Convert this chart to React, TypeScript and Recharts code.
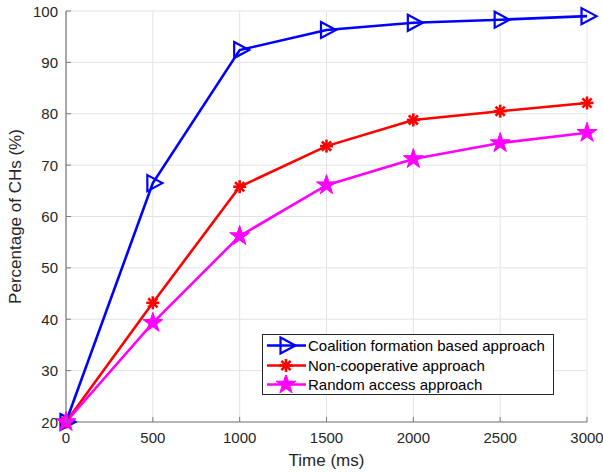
import { LineChart, Line, XAxis, YAxis, CartesianGrid } from 'recharts';

const times = [0, 500, 1000, 1500, 2000, 2500, 3000];
const coalition = [20, 66.5, 92.4, 96.3, 97.7, 98.3, 99.0];
const nonCoop = [20, 43.2, 65.8, 73.7, 78.8, 80.5, 82.1];
const randomAccess = [20, 39.3, 56.2, 66.1, 71.2, 74.3, 76.3];

const xTicks = [0, 500, 1000, 1500, 2000, 2500, 3000];
const yTicks = [20, 30, 40, 50, 60, 70, 80, 90, 100];

const data = times.map((t, i) => ({
  t,
  coalition: coalition[i],
  nonCoop: nonCoop[i],
  randomAccess: randomAccess[i],
}));

const FONT = '"Liberation Sans", Arial, Helvetica, sans-serif';
const AXIS = '#7a7a7a';
const TEXT = '#262626';

const triangle = (cx: number, cy: number, color: string) => (
  <polygon
    points={`${cx - 5.5},${cy - 8} ${cx + 9.5},${cy} ${cx - 5.5},${cy + 8}`}
    fill="none"
    stroke={color}
    strokeWidth={2.2}
    strokeLinejoin="miter"
  />
);

const asterisk = (cx: number, cy: number, color: string) => {
  const r = 6.5;
  const d = r * 0.7071;
  return (
    <g stroke={color} strokeWidth={2.6}>
      <line x1={cx - r} y1={cy} x2={cx + r} y2={cy} />
      <line x1={cx} y1={cy - r} x2={cx} y2={cy + r} />
      <line x1={cx - d} y1={cy - d} x2={cx + d} y2={cy + d} />
      <line x1={cx - d} y1={cy + d} x2={cx + d} y2={cy - d} />
    </g>
  );
};

const pentagram = (cx: number, cy: number, color: string) => {
  const R = 10.5;
  const r = R * 0.382;
  const pts: string[] = [];
  for (let i = 0; i < 10; i++) {
    const a = -Math.PI / 2 + (i * Math.PI) / 5;
    const rad = i % 2 === 0 ? R : r;
    pts.push(`${cx + rad * Math.cos(a)},${cy + rad * Math.sin(a)}`);
  }
  return <polygon points={pts.join(' ')} fill={color} stroke={color} strokeWidth={1} />;
};

const series = [
  { key: 'coalition', name: 'Coalition formation based approach', color: '#0000ff', marker: triangle },
  { key: 'nonCoop', name: 'Non-cooperative approach', color: '#ff0000', marker: asterisk },
  { key: 'randomAccess', name: 'Random access approach', color: '#ff00ff', marker: pentagram },
];

// MATLAB style: ticks point inward, labels only on bottom/left
const XTick = (props: any) => {
  const { x, y, payload, top } = props;
  if (top) {
    return <line x1={x} y1={y} x2={x} y2={y + 5} stroke={AXIS} />;
  }
  return (
    <g>
      <line x1={x} y1={y} x2={x} y2={y - 5} stroke={AXIS} />
      <text x={x} y={y + 21} textAnchor="middle" fontSize={15} fill={TEXT} fontFamily={FONT}>
        {payload.value}
      </text>
    </g>
  );
};

const YTick = (props: any) => {
  const { x, y, payload, right } = props;
  if (right) {
    return <line x1={x} y1={y} x2={x - 5} y2={y} stroke={AXIS} />;
  }
  return (
    <g>
      <line x1={x} y1={y} x2={x + 5} y2={y} stroke={AXIS} />
      <text x={x - 8} y={y + 5.5} textAnchor="end" fontSize={15} fill={TEXT} fontFamily={FONT}>
        {payload.value}
      </text>
    </g>
  );
};

const ChartLegend = () => (
  <div
    style={{
      position: 'absolute',
      left: 262,
      top: 334,
      width: 292,
      height: 61,
      border: '1px solid #262626',
      background: '#fff',
      fontFamily: FONT,
      fontSize: 15,
      color: '#000',
      boxSizing: 'border-box',
      paddingTop: 1,
    }}
  >
    {series.map((s) => (
      <div key={s.key} style={{ display: 'flex', alignItems: 'center', height: 19.5 }}>
        <svg width={45} height={19} style={{ flex: 'none' }}>
          <line x1={4} y1={9.5} x2={43} y2={9.5} stroke={s.color} strokeWidth={2.5} />
          {s.marker(23, 9.5, s.color)}
        </svg>
        <span style={{ whiteSpace: 'nowrap' }}>{s.name}</span>
      </div>
    ))}
  </div>
);

const App = () => {
  return (
    <div style={{ position: 'absolute', left: 0, top: 0, width: 603, height: 472, background: '#fff' }}>
      <LineChart width={603} height={472} data={data} margin={{ top: 11, right: 16, bottom: 20, left: 26 }}>
        <CartesianGrid stroke="#e3e3e3" strokeWidth={1} />
        <XAxis
          dataKey="t"
          type="number"
          domain={[0, 3000]}
          ticks={xTicks}
          height={30}
          tickSize={0}
          tickMargin={0}
          tickLine={false}
          axisLine={{ stroke: AXIS, strokeWidth: 1.2 }}
          tick={<XTick />}
          interval={0}
          label={{ value: 'Time (ms)', position: 'bottom', offset: 2, fontSize: 17, fill: TEXT, fontFamily: FONT }}
        />
        <XAxis
          xAxisId="top"
          orientation="top"
          type="number"
          domain={[0, 3000]}
          ticks={xTicks}
          height={0}
          tickSize={0}
          tickMargin={0}
          tickLine={false}
          axisLine={{ stroke: AXIS, strokeWidth: 1.2 }}
          tick={<XTick top />}
          interval={0}
        />
        <YAxis
          type="number"
          domain={[20, 100]}
          ticks={yTicks}
          width={40}
          tickSize={0}
          tickMargin={0}
          tickLine={false}
          axisLine={{ stroke: AXIS, strokeWidth: 1.2 }}
          tick={<YTick />}
          interval={0}
          label={{
            value: 'Percentage of CHs (%)',
            angle: -90,
            position: 'insideLeft',
            offset: 2,
            style: { textAnchor: 'middle' },
            fontSize: 17,
            fill: TEXT,
            fontFamily: FONT,
            dx: -13,
          }}
        />
        <YAxis
          yAxisId="right"
          orientation="right"
          type="number"
          domain={[20, 100]}
          ticks={yTicks}
          width={0}
          tickSize={0}
          tickMargin={0}
          tickLine={false}
          axisLine={{ stroke: AXIS, strokeWidth: 1.2 }}
          tick={<YTick right />}
          interval={0}
        />
        {series.map((s) => (
          <Line
            key={s.key}
            dataKey={s.key}
            name={s.name}
            type="linear"
            stroke={s.color}
            strokeWidth={2.6}
            isAnimationActive={false}
            dot={(p: any) => <g key={`${s.key}-${p.index}`}>{s.marker(p.cx, p.cy, s.color)}</g>}
            activeDot={false}
          />
        ))}
      </LineChart>
      <ChartLegend />
    </div>
  );
};

export default App;
